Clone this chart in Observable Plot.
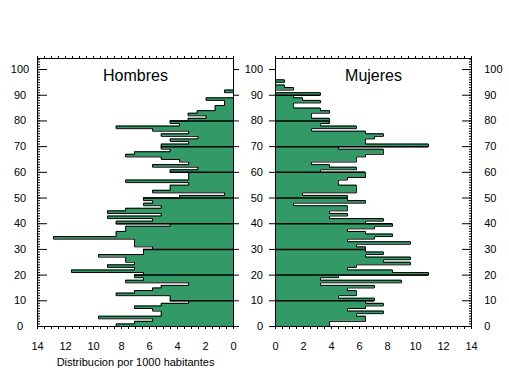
<!DOCTYPE html>
<html><head><meta charset="utf-8">
<script src="https://cdn.jsdelivr.net/npm/d3@7"></script>
<script src="https://cdn.jsdelivr.net/npm/@observablehq/plot@0.6"></script>
<style>
body{margin:0;background:#fff;}
#wrap{position:relative;width:509px;height:376px;overflow:hidden;background:#fff;}
#wrap svg{position:absolute;top:0;background:transparent;overflow:visible;}
</style></head><body><div id="wrap"></div>
<script>
// Distribución por 1000 habitantes, por edad simple (índice = edad)
const hombres = [
  8.38, 7.07, 5.78, 9.64, 5.16, 5.16, 5.78, 7.07, 5.16, 3.2,
  4.52, 4.52, 8.38, 7.07, 5.78, 5.16, 3.2, 7.7, 6.43, 7.07,
  6.43, 11.57, 7.07, 9.0, 7.07, 7.7, 7.7, 9.64, 6.43, 6.43,
  5.78, 7.07, 7.07, 7.07, 12.86, 8.38, 8.38, 7.7, 7.7, 4.52,
  8.38, 5.78, 9.0, 5.16, 9.0, 7.7, 5.16, 6.43, 5.78, 6.43,
  3.85, 0.64, 5.78, 4.52, 4.52, 3.2, 7.7, 3.2, 3.2, 3.2,
  4.52, 2.54, 5.78, 3.2, 3.85, 5.16, 7.7, 7.07, 4.52, 5.16,
  5.16, 3.2, 4.52, 2.54, 5.16, 3.2, 5.78, 8.38, 3.85, 4.52,
  3.24, 1.95, 3.24, 2.59, 1.31, 1.31, 0.64, 0.64, 1.95, 0,
  0, 0.64
];
const mujeres = [
  3.86, 3.86, 6.43, 6.43, 5.78, 7.71, 5.14, 6.43, 7.71, 6.43,
  7.07, 4.5, 5.78, 5.78, 5.14, 7.07, 3.21, 9.0, 3.21, 4.5,
  10.93, 8.36, 5.14, 5.78, 9.64, 7.71, 9.64, 6.43, 7.71, 6.43,
  6.43, 5.78, 9.64, 5.14, 7.07, 8.36, 6.43, 5.14, 7.07, 8.36,
  6.43, 7.71, 3.86, 5.14, 3.86, 5.14, 5.14, 1.29, 6.43, 5.14,
  5.14, 1.93, 5.78, 5.78, 5.78, 4.5, 4.5, 5.14, 6.43, 6.43,
  3.21, 5.78, 3.86, 2.57, 5.78, 5.78, 6.43, 7.71, 7.71, 4.5,
  10.93, 6.43, 6.43, 7.07, 7.71, 6.43, 2.57, 5.78, 3.21, 3.86,
  3.86, 2.57, 2.57, 3.86, 3.21, 1.29, 1.29, 3.21, 1.93, 1.29,
  3.21, 0, 1.29, 0.64, 0, 0.64
];
const decadas = [0, 10, 20, 30, 40, 50, 60, 70, 80, 90, 100];
const lineasDecada = [10, 20, 30, 40, 50, 60, 70, 80, 90];
const xEtiquetas = [0, 2, 4, 6, 8, 10, 12, 14];
const yMenores = d3.range(0, 105, 1);
const xMenores = d3.range(0, 14.001, 0.5);
const titulos = ["Hombres", "Mujeres"];
const ejeX = "Distribucion por 1000 habitantes";

const GREEN = "#339966";
const FONT = "Arial, 'Liberation Sans', sans-serif";

function serie(vals) {
  const pts = vals.map((v, i) => ({age: i, v}));
  pts.push({age: vals.length, v: vals[vals.length - 1]});
  pts.push({age: vals.length, v: 0});
  return pts;
}
function barras(vals) {
  return [
    Plot.areaX(serie(vals), {x1: 0, x2: "v", y: "age", curve: "step-before", fill: GREEN}),
    Plot.lineX(serie(vals), {x: "v", y: "age", curve: "step-before", stroke: "black", strokeWidth: 1}),
    Plot.ruleY(lineasDecada, {y: d => d, x1: 0, x2: d => Math.max(vals[d - 1] || 0, vals[d] || 0), stroke: "black", strokeWidth: 1.5}),
    Plot.frame({stroke: "black"})
  ];
}

const izq = Plot.plot({
  width: 245, height: 376,
  marginLeft: 37, marginRight: 12, marginTop: 58, marginBottom: 50,
  x: {domain: [0, 14], reverse: true},
  y: {domain: [0, 104.3]},
  style: {fontFamily: FONT, fontSize: "11px", color: "black", background: "transparent"},
  marks: [
    ...barras(hombres),
    Plot.axisY(yMenores, {anchor: "left", tickSize: -3, fill: "none", label: null}),
    Plot.axisY(decadas, {anchor: "left", tickSize: -10, fill: "none", label: null}),
    Plot.axisY(decadas, {anchor: "left", tickSize: 0, tickPadding: 17.5, textAnchor: "middle", label: null}),
    Plot.axisY(decadas, {anchor: "right", tickSize: 5, fill: "none", label: null}),
    Plot.axisX(xMenores, {anchor: "bottom", tickSize: 3, fill: "none", label: null}),
    Plot.axisX(xMenores, {anchor: "top", tickSize: 3, fill: "none", label: null}),
    Plot.axisX(xEtiquetas, {anchor: "bottom", tickSize: 0, tickPadding: 16, label: null}),
    Plot.text([titulos[0]], {frameAnchor: "top", dy: 17, lineAnchor: "middle", fontSize: 16}),
    Plot.text([ejeX], {frameAnchor: "bottom", dy: 36, lineAnchor: "middle", fontSize: 11})
  ]
});
izq.style.left = "0px";

const der = Plot.plot({
  width: 271, height: 376,
  marginLeft: 37, marginRight: 38, marginTop: 58, marginBottom: 50,
  x: {domain: [0, 14]},
  y: {domain: [0, 104.3]},
  style: {fontFamily: FONT, fontSize: "11px", color: "black", background: "transparent"},
  marks: [
    ...barras(mujeres),
    Plot.axisY(decadas, {anchor: "left", tickSize: 6, fill: "none", label: null}),
    Plot.axisY(decadas, {anchor: "left", tickSize: 0, tickPadding: 12.5, label: null}),
    Plot.axisY(yMenores, {anchor: "right", tickSize: -3, fill: "none", label: null}),
    Plot.axisY(decadas, {anchor: "right", tickSize: -10, fill: "none", label: null}),
    Plot.axisY(decadas, {anchor: "right", tickSize: 0, tickPadding: 12.7, label: null}),
    Plot.axisX(xMenores, {anchor: "bottom", tickSize: 3, fill: "none", label: null}),
    Plot.axisX(xMenores, {anchor: "top", tickSize: 3, fill: "none", label: null}),
    Plot.axisX(xEtiquetas, {anchor: "bottom", tickSize: 0, tickPadding: 16, label: null}),
    Plot.text([titulos[1]], {frameAnchor: "top", dy: 17, lineAnchor: "middle", fontSize: 16})
  ]
});
der.style.left = "238px";

const wrap = document.getElementById("wrap");
wrap.appendChild(izq);
wrap.appendChild(der);
</script>
</body></html>
